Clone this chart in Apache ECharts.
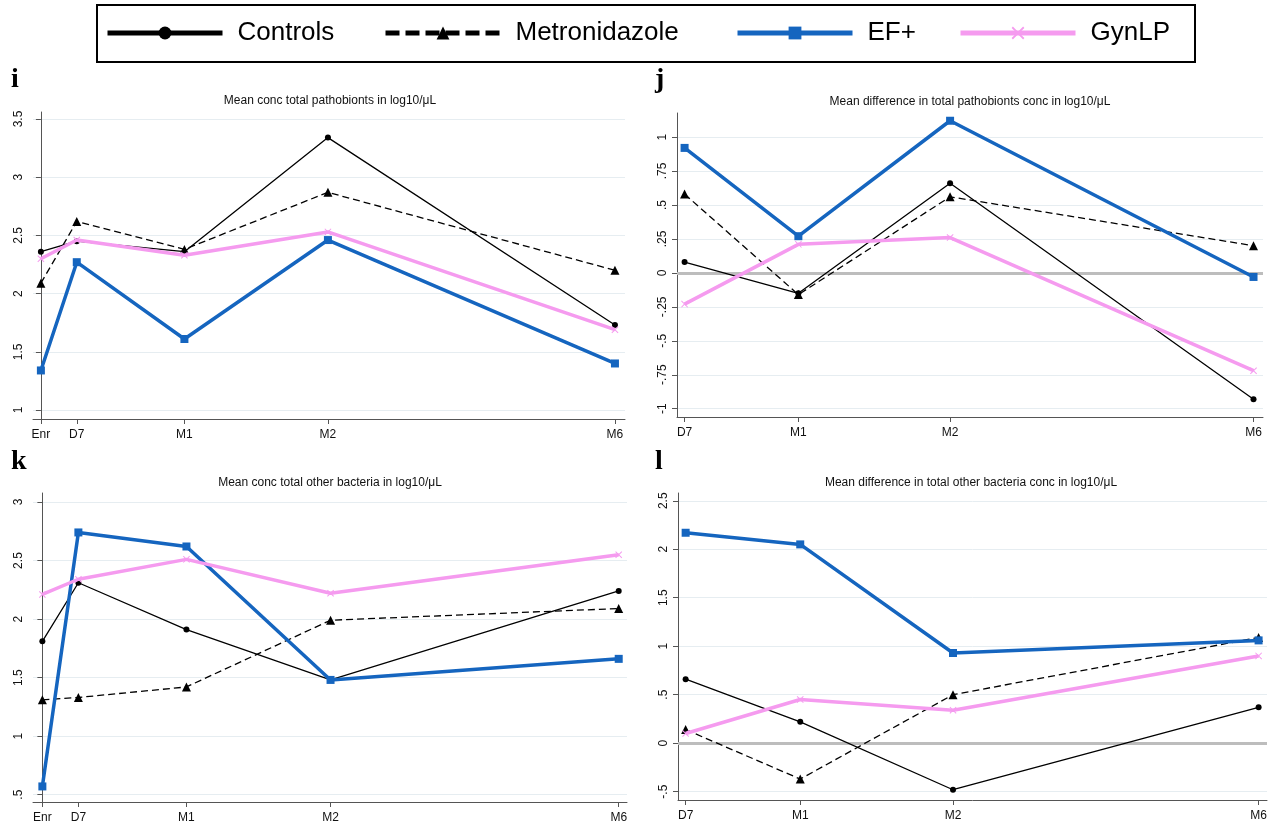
<!DOCTYPE html>
<html><head><meta charset="utf-8">
<script src="https://cdn.jsdelivr.net/npm/echarts@6/dist/echarts.min.js"></script>
<style>html,body{margin:0;padding:0;background:#fff}#c{width:1277px;height:824px}</style>
</head><body><div id="c"></div>
<script>
// ---------- DATA ----------
const seriesNames = ['Controls', 'Metronidazole', 'EF+', 'GynLP'];
const timeLabelsFull = ['Enr', 'D7', 'M1', 'M2', 'M6'];
const timeWeeksFull = [0, 1, 4, 8, 16];
const timeLabelsDiff = ['D7', 'M1', 'M2', 'M6'];
const timeWeeksDiff = [1, 4, 8, 16];

// panel i: Mean conc total pathobionts
const iControls = [2.36, 2.45, 2.36, 3.34, 1.73];
const iMetro    = [2.09, 2.62, 2.38, 2.87, 2.20];
const iEF       = [1.34, 2.27, 1.61, 2.46, 1.40];
const iGyn      = [2.30, 2.46, 2.33, 2.53, 1.69];
// panel j: Mean difference in total pathobionts conc
const jControls = [0.08, -0.15, 0.66, -0.93];
const jMetro    = [0.58, -0.16, 0.56, 0.20];
const jEF       = [0.92, 0.27, 1.12, -0.03];
const jGyn      = [-0.23, 0.21, 0.26, -0.72];
// panel k: Mean conc total other bacteria
const kControls = [1.81, 2.31, 1.91, 1.48, 2.24];
const kMetro    = [1.31, 1.33, 1.42, 1.99, 2.09];
const kEF       = [0.57, 2.74, 2.62, 1.48, 1.66];
const kGyn      = [2.21, 2.34, 2.51, 2.22, 2.55];
// panel l: Mean difference in total other bacteria conc
const lControls = [0.66, 0.22, -0.48, 0.37];
const lMetro    = [0.14, -0.37, 0.50, 1.09];
const lEF       = [2.17, 2.05, 0.93, 1.06];
const lGyn      = [0.10, 0.45, 0.34, 0.90];

// y tick values and labels
const iTicks = [1, 1.5, 2, 2.5, 3, 3.5];
const iTickLabels = ['1', '1.5', '2', '2.5', '3', '3.5'];
const jTicks = [-1, -0.75, -0.5, -0.25, 0, 0.25, 0.5, 0.75, 1];
const jTickLabels = ['-1', '-.75', '-.5', '-.25', '0', '.25', '.5', '.75', '1'];
const kTicks = [0.5, 1, 1.5, 2, 2.5, 3];
const kTickLabels = ['.5', '1', '1.5', '2', '2.5', '3'];
const lTicks = [-0.5, 0, 0.5, 1, 1.5, 2, 2.5];
const lTickLabels = ['-.5', '0', '.5', '1', '1.5', '2', '2.5'];

const titles = [
  'Mean conc total pathobionts in log10/μL',
  'Mean difference in total pathobionts conc in log10/μL',
  'Mean conc total other bacteria in log10/μL',
  'Mean difference in total other bacteria conc in log10/μL'
];
const letters = ['i', 'j', 'k', 'l'];

// ---------- LAYOUT / STYLE ----------
const FONT = 'Arial, "Liberation Sans", sans-serif';
const SERIF = '"Times New Roman", "Liberation Serif", serif';
const BLUE = '#1565BF';
const PINK = '#F59BEF';
const AXIS = '#555';
const GRIDC = '#e6edf1';
const xSymbol = 'path://M0,1 L1,0 L5,4 L9,0 L10,1 L6,5 L10,9 L9,10 L5,6 L1,10 L0,9 L4,5 Z';

const panels = [
  { grid: {left: 33, top: 112, width: 592, height: 307}, xr: [-0.22, 16.28], yr: [0.923, 3.56],
    times: timeWeeksFull, tlabels: timeLabelsFull, ticks: iTicks, tickLabels: iTickLabels,
    data: [iControls, iMetro, iEF, iGyn], zero: false, tx: 330, ty: 101, lx: 11, ly: 66 },
  { grid: {left: 677, top: 113, width: 586, height: 304}, xr: [0.8, 16.25], yr: [-1.061, 1.177],
    times: timeWeeksDiff, tlabels: timeLabelsDiff, ticks: jTicks, tickLabels: jTickLabels,
    data: [jControls, jMetro, jEF, jGyn], zero: true, tx: 970, ty: 102, lx: 655, ly: 66 },
  { grid: {left: 33, top: 493, width: 594, height: 309}, xr: [-0.26, 16.23], yr: [0.437, 3.077],
    times: timeWeeksFull, tlabels: timeLabelsFull, ticks: kTicks, tickLabels: kTickLabels,
    data: [kControls, kMetro, kEF, kGyn], zero: false, tx: 330, ty: 483, lx: 11, ly: 448 },
  { grid: {left: 678, top: 493, width: 589, height: 307}, xr: [0.8, 16.22], yr: [-0.586, 2.58],
    times: timeWeeksDiff, tlabels: timeLabelsDiff, ticks: lTicks, tickLabels: lTickLabels,
    data: [lControls, lMetro, lEF, lGyn], zero: true, tx: 971, ty: 483, lx: 655, ly: 448 }
];

const styles = [
  { color: '#000', width: 1.3, type: 'solid', symbol: 'circle', size: 6 },
  { color: '#000', width: 1.3, type: [7, 4], symbol: 'triangle', size: 9 },
  { color: BLUE, width: 3.5, type: 'solid', symbol: 'rect', size: 8 },
  { color: PINK, width: 3.5, type: 'solid', symbol: xSymbol, size: 7 }
];

const grid = [], xAxis = [], yAxis = [], series = [], graphic = [];
panels.forEach((p, pi) => {
  grid.push(p.grid);
  const xMap = {};
  p.times.forEach((t, k) => { xMap[t] = p.tlabels[k]; });
  const yMap = {};
  p.ticks.forEach((t, k) => { yMap[t] = p.tickLabels[k]; });
  xAxis.push({
    type: 'value', gridIndex: pi, min: p.xr[0], max: p.xr[1],
    axisLine: { show: true, onZero: false, lineStyle: { color: AXIS, width: 1 } },
    axisTick: { show: true, customValues: p.times, length: 5, lineStyle: { color: AXIS } },
    axisLabel: { customValues: p.times, formatter: v => xMap[v] !== undefined ? xMap[v] : '',
                 fontFamily: FONT, fontSize: 12, color: '#111', margin: 10 },
    splitLine: { show: false }
  });
  yAxis.push({
    type: 'value', gridIndex: pi, min: p.yr[0], max: p.yr[1],
    axisLine: { show: true, lineStyle: { color: AXIS, width: 1 } },
    axisTick: { show: true, customValues: p.ticks, length: 5, lineStyle: { color: AXIS } },
    axisLabel: { customValues: p.ticks, rotate: 90, formatter: v => yMap[v] !== undefined ? yMap[v] : '',
                 fontFamily: FONT, fontSize: 12, color: '#111', margin: 8 },
    splitLine: { show: true, lineStyle: { color: GRIDC, width: 1 } }
  });
  p.data.forEach((vals, si) => {
    const st = styles[si];
    const s = {
      name: seriesNames[si], type: 'line', xAxisIndex: pi, yAxisIndex: pi,
      data: vals.map((v, k) => [p.times[k], v]),
      symbol: st.symbol, symbolSize: st.size, z: 2 + si,
      lineStyle: { color: st.color, width: st.width, type: st.type },
      itemStyle: { color: st.color },
      animation: false
    };
    if (si === 0 && p.zero) {
      s.markLine = {
        silent: true, symbol: 'none', z: 1, animation: false,
        label: { show: false },
        lineStyle: { color: '#bdbdbd', width: 3, type: 'solid' },
        data: [{ yAxis: 0 }]
      };
    }
    series.push(s);
  });
  graphic.push({
    type: 'text', x: p.tx, y: p.ty,
    style: { text: titles[pi], font: '12px ' + FONT, fill: '#111', align: 'center', verticalAlign: 'middle' }
  });
  graphic.push({
    type: 'text', x: p.lx, y: p.ly,
    style: { text: letters[pi], font: 'bold 28px ' + SERIF, fill: '#000', align: 'left', verticalAlign: 'top' }
  });
});

// legend frame
graphic.push({
  type: 'rect', shape: { x: 97, y: 5, width: 1098, height: 57 },
  style: { fill: 'none', stroke: '#000', lineWidth: 2 }
});

const legendLefts = [105, 383, 735, 958];
const legendDash = ['solid', [14, 6], 'solid', 'solid'];
const legend = seriesNames.map((n, i) => ({
  data: [n], left: legendLefts[i], top: 20, padding: 0,
  itemWidth: 115, itemHeight: 16, selectedMode: false,
  lineStyle: { width: 5, type: legendDash[i] },
  textStyle: { fontFamily: FONT, fontSize: 26, color: '#000', padding: [0, 0, 0, 10] }
}));

const chart = echarts.init(document.getElementById('c'), null, { renderer: 'canvas' });
chart.setOption({ animation: false, backgroundColor: '#fff', grid, xAxis, yAxis, series, graphic, legend });
</script></body></html>
